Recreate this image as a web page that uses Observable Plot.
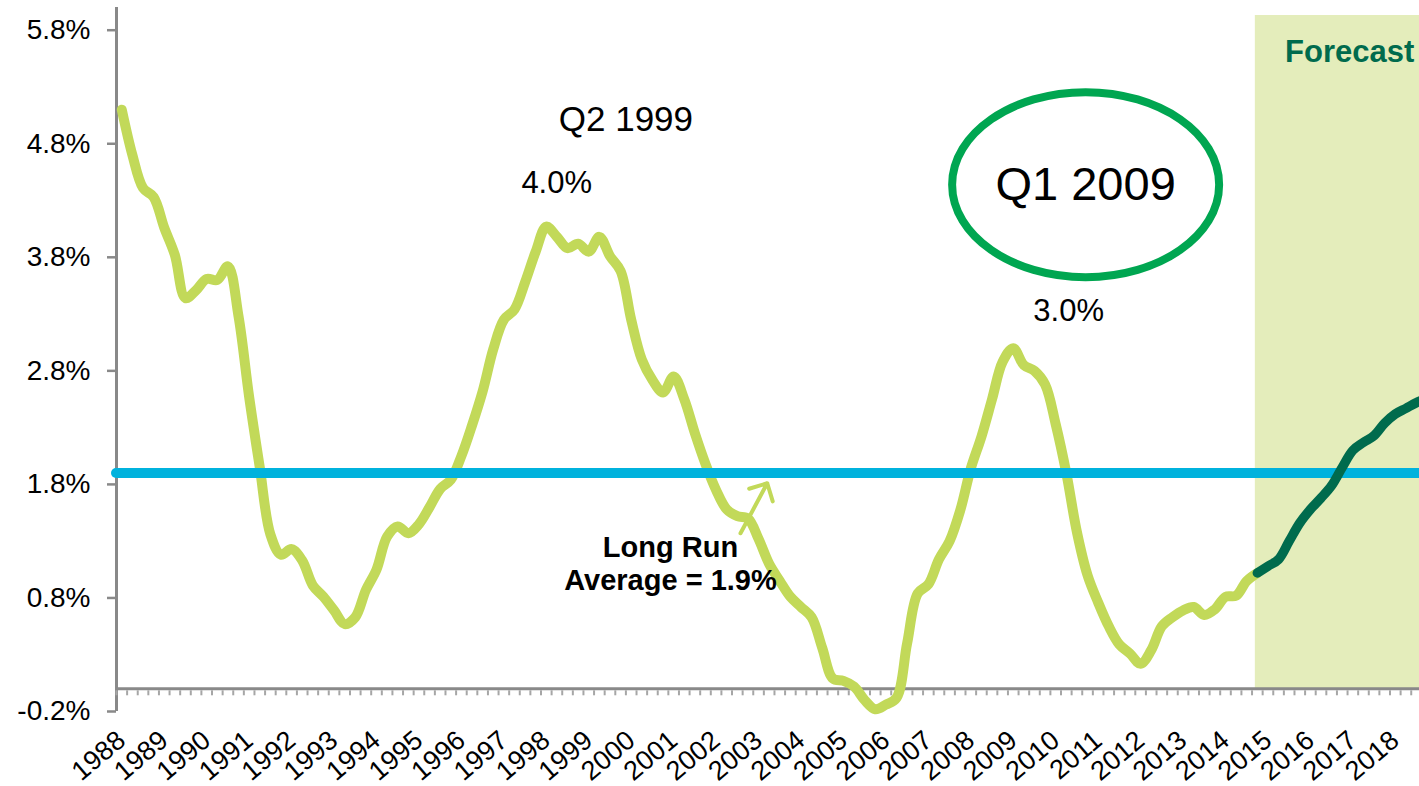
<!DOCTYPE html>
<html>
<head>
<meta charset="utf-8">
<script src="https://cdn.jsdelivr.net/npm/d3@7"></script>
<script src="https://cdn.jsdelivr.net/npm/@observablehq/plot@0.6"></script>
<style>
  html, body { margin: 0; padding: 0; background: #ffffff; }
  #chart { width: 1419px; height: 786px; overflow: hidden; }
</style>
</head>
<body>
<div id="chart"></div>
<script>
// ---- Data (quarterly, first value = Q1 1988) ----
const startYear = 1988;
const yearLabels = ["1988","1989","1990","1991","1992","1993","1994","1995","1996","1997",
  "1998","1999","2000","2001","2002","2003","2004","2005","2006","2007",
  "2008","2009","2010","2011","2012","2013","2014","2015","2016","2017","2018"];

// Historical series (Q1 1988 .. Q4 2014), percent
const history = [
  5.10, 4.70, 4.41, 4.33, 4.06, 3.82, 3.44, 3.51, 3.61, 3.60,
  3.72, 3.28, 2.57, 1.95, 1.36, 1.18, 1.23, 1.13, 0.91, 0.81,
  0.69, 0.57, 0.63, 0.87, 1.05, 1.34, 1.43, 1.37, 1.45, 1.60,
  1.76, 1.84, 2.05, 2.32, 2.62, 2.99, 3.25, 3.34, 3.58, 3.85,
  4.07, 3.98, 3.88, 3.92, 3.85, 3.98, 3.81, 3.68, 3.25, 2.90,
  2.72, 2.61, 2.75, 2.55, 2.25, 1.98, 1.75, 1.58, 1.52, 1.50,
  1.32, 1.10, 0.95, 0.81, 0.72, 0.63, 0.36, 0.09, 0.07, 0.02,
  -0.10, -0.18, -0.14, -0.08, 0.40, 0.84, 0.92, 1.14, 1.30, 1.57,
  1.94, 2.22, 2.55, 2.88, 3.00, 2.85, 2.80, 2.68, 2.33, 1.90,
  1.38, 1.00, 0.76, 0.55, 0.39, 0.31, 0.22, 0.34, 0.55, 0.63,
  0.69, 0.72, 0.65, 0.70, 0.81, 0.82, 0.95, 1.02
];
// Forecast series (Q4 2014 .. Q4 2018), percent
const forecastStartIndex = 107;
const forecast = [
  1.02, 1.08, 1.14, 1.30, 1.46, 1.58, 1.68, 1.79, 1.95, 2.10,
  2.17, 2.23, 2.34, 2.42, 2.47, 2.52, 2.56
];

const longRunAverage = 1.9;
const yTicks = [-0.2, 0.8, 1.8, 2.8, 3.8, 4.8, 5.8];
const yDomain = [-0.2, 6.0];
const xDomainEnd = 2018.695;

// Annotations (data coordinates)
const plainLabels = [
  {text: "Q2 1999", x: 2000.0, y: 5.01},
  {text: "4.0%", x: 1998.37, y: 4.45},
  {text: "3.0%", x: 2010.43, y: 3.33}
];
const circledLabel = [{text: "Q1 2009", x: 2010.83, y: 4.44}];
const forecastLabel = [{text: "Forecast", x: 2017.05, y: 5.61}];
const averageLabel = [{text: "Long Run\nAverage = 1.9%", x: 2001.05, y: 1.11}];
const averageArrow = [{x1: 2002.70, y1: 1.37, x2: 2003.33, y2: 1.81}];

// ---- Derived tables ----
const quarterX = (i) => startYear + i / 4 + 0.125;
const histTable = history.map((v, i) => ({x: quarterX(i), v}));
const fcTable = forecast.map((v, i) => ({x: quarterX(forecastStartIndex + i), v}));
const yearTicks = yearLabels.map((d, i) => startYear + i + 0.125);
const quarterBounds = d3.range(0, Math.floor((xDomainEnd - startYear) * 4) + 1).map(k => startYear + k / 4);
const forecastBand = [{x1: fcTable[0].x, x2: xDomainEnd}];

// ---- Colors ----
const lightGreen = "#c2d959";
const darkGreen = "#006b4d";
const avgBlue = "#00b2dd";
const bandFill = "#e4edbb";
const axisGray = "#898989";
const ringGreen = "#00a651";

const ellipseSymbol = {
  draw(ctx) {
    const rx = 133.5, ry = 92.5, k = 0.5523;
    ctx.moveTo(rx, 0);
    ctx.bezierCurveTo(rx, ry * k, rx * k, ry, 0, ry);
    ctx.bezierCurveTo(-rx * k, ry, -rx, ry * k, -rx, 0);
    ctx.bezierCurveTo(-rx, -ry * k, -rx * k, -ry, 0, -ry);
    ctx.bezierCurveTo(rx * k, -ry, rx, -ry * k, rx, 0);
    ctx.closePath();
  }
};

const chart = Plot.plot({
  width: 1419,
  height: 786,
  marginLeft: 116,
  marginRight: 0,
  marginTop: 7,
  marginBottom: 75,
  style: {fontFamily: "'Liberation Sans', Arial, sans-serif", background: "#ffffff", color: "#000000", overflow: "visible"},
  x: {domain: [startYear, xDomainEnd], axis: null},
  y: {domain: yDomain, axis: null},
  marks: [
    // forecast shading
    Plot.rect(forecastBand, {x1: "x1", x2: "x2", y1: 0, y2: yDomain[1], insetTop: 8, insetLeft: -2, fill: bandFill}),
    // y axis
    Plot.ruleX([startYear], {stroke: axisGray, strokeWidth: 3}),
    Plot.axisY(yTicks, {
      tickSize: 9, tickPadding: 17, fontSize: 28,
      tickFormat: d => d.toFixed(1) + "%",
      stroke: axisGray, strokeWidth: 2.5, fill: "#000000"
    }),
    // x axis line at 0% with quarterly minor ticks
    Plot.ruleY([0], {stroke: axisGray, strokeWidth: 3}),
    Plot.ruleX(quarterBounds, {x: d => d, y1: 0, y2: 0, insetTop: 2, insetBottom: -7, stroke: "#a6a6a6", strokeWidth: 2}),
    Plot.axisX(yearTicks, {
      tickSize: 0, tickPadding: 25, tickRotate: -40, fontSize: 27,
      tickFormat: (d, i) => yearLabels[i], fill: "#000000"
    }),
    // history line
    Plot.line(histTable, {x: "x", y: "v", stroke: lightGreen, strokeWidth: 10, curve: "catmull-rom"}),
    // long-run average
    Plot.ruleY([longRunAverage], {stroke: avgBlue, strokeWidth: 10, strokeLinecap: "round"}),
    // forecast line
    Plot.line(fcTable, {x: "x", y: "v", stroke: darkGreen, strokeWidth: 9.5, curve: "catmull-rom", clip: true}),
    // arrow
    Plot.arrow(averageArrow, {x1: "x1", y1: "y1", x2: "x2", y2: "y2", stroke: lightGreen, strokeWidth: 4, headLength: 22, headAngle: 90}),
    // annotations
    Plot.text(plainLabels.slice(0, 1), {x: "x", y: "y", text: "text", fontSize: 35, fill: "#000000"}),
    Plot.text(plainLabels.slice(1), {x: "x", y: "y", text: "text", fontSize: 31, fill: "#000000"}),
    Plot.dot(circledLabel, {x: "x", y: "y", symbol: ellipseSymbol, stroke: ringGreen, strokeWidth: 8, fill: "none"}),
    Plot.text(circledLabel, {x: "x", y: "y", text: "text", fontSize: 47, fill: "#000000"}),
    Plot.text(forecastLabel, {x: "x", y: "y", text: "text", fontSize: 31, fontWeight: "bold", fill: darkGreen}),
    Plot.text(averageLabel, {x: "x", y: "y", text: "text", fontSize: 29, fontWeight: "bold", lineHeight: 1.15, fill: "#000000"})
  ]
});

document.getElementById("chart").appendChild(chart);
</script>
</body>
</html>
